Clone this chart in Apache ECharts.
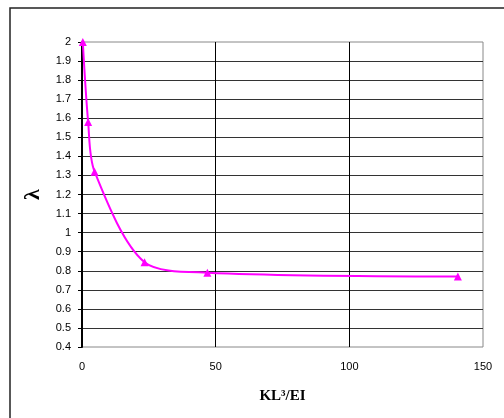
<!DOCTYPE html>
<html><head><meta charset="utf-8">
<script src="https://cdn.jsdelivr.net/npm/echarts@6/dist/echarts.min.js"></script>
<style>html,body{margin:0;padding:0;background:#fff}#c{width:504px;height:418px}</style>
</head><body><div id="c"></div>
<script>
const xValues = [0.3, 2.3, 4.7, 23.4, 46.9, 140.6];
const yValues = [2.0, 1.58, 1.32, 0.845, 0.79, 0.77];
const xTicks = [0, 50, 100, 150];
const yTicks = [0.4, 0.5, 0.6, 0.7, 0.8, 0.9, 1, 1.1, 1.2, 1.3, 1.4, 1.5, 1.6, 1.7, 1.8, 1.9, 2];
const xTitle = 'KL³/EI';
const yTitle = 'λ';

const chart = echarts.init(document.getElementById('c'), null, {renderer: 'canvas'});
chart.setOption({
  animation: false,
  backgroundColor: '#fff',
  graphic: [{
    type: 'rect', shape: {x: 10, y: 8, width: 520, height: 430},
    style: {fill: 'none', stroke: '#222', lineWidth: 1.5}, z: -1
  }],
  grid: {left: 82, top: 42, right: 21, bottom: 71, show: true, borderColor: '#888', borderWidth: 1, backgroundColor: 'transparent'},
  xAxis: {
    type: 'value', min: xTicks[0], max: xTicks[xTicks.length - 1], interval: 50,
    name: xTitle, nameLocation: 'middle', nameGap: 42,
    nameTextStyle: {fontFamily: 'Liberation Serif', fontWeight: 'bold', fontSize: 15, color: '#000'},
    axisLine: {show: false},
    axisTick: {show: false},
    axisLabel: {fontFamily: 'Liberation Sans', fontSize: 11, color: '#000', margin: 14},
    splitLine: {show: true, showMinLine: false, showMaxLine: false, lineStyle: {color: '#000', width: 1}}
  },
  yAxis: {
    type: 'value', min: yTicks[0], max: yTicks[yTicks.length - 1], interval: 0.1,
    name: yTitle, nameLocation: 'middle', nameGap: 37,
    nameTextStyle: {fontFamily: 'Liberation Serif', fontWeight: 'bold', fontSize: 22, color: '#000'},
    axisLine: {show: true, lineStyle: {color: '#000', width: 2}},
    axisTick: {show: true, length: 4, lineStyle: {color: '#000'}},
    axisLabel: {fontFamily: 'Liberation Sans', fontSize: 11, color: '#000', margin: 11,
      formatter: v => String(Math.round(v * 10) / 10)},
    splitLine: {show: true, showMinLine: false, showMaxLine: false, lineStyle: {color: '#333', width: 1}}
  },
  series: [{
    type: 'line',
    data: xValues.map((x, i) => [x, yValues[i]]),
    smooth: 0.3,
    symbol: 'triangle', symbolSize: 8,
    lineStyle: {color: '#FF00FF', width: 2},
    itemStyle: {color: '#FF00FF'},
    z: 5
  }]
});
</script></body></html>
